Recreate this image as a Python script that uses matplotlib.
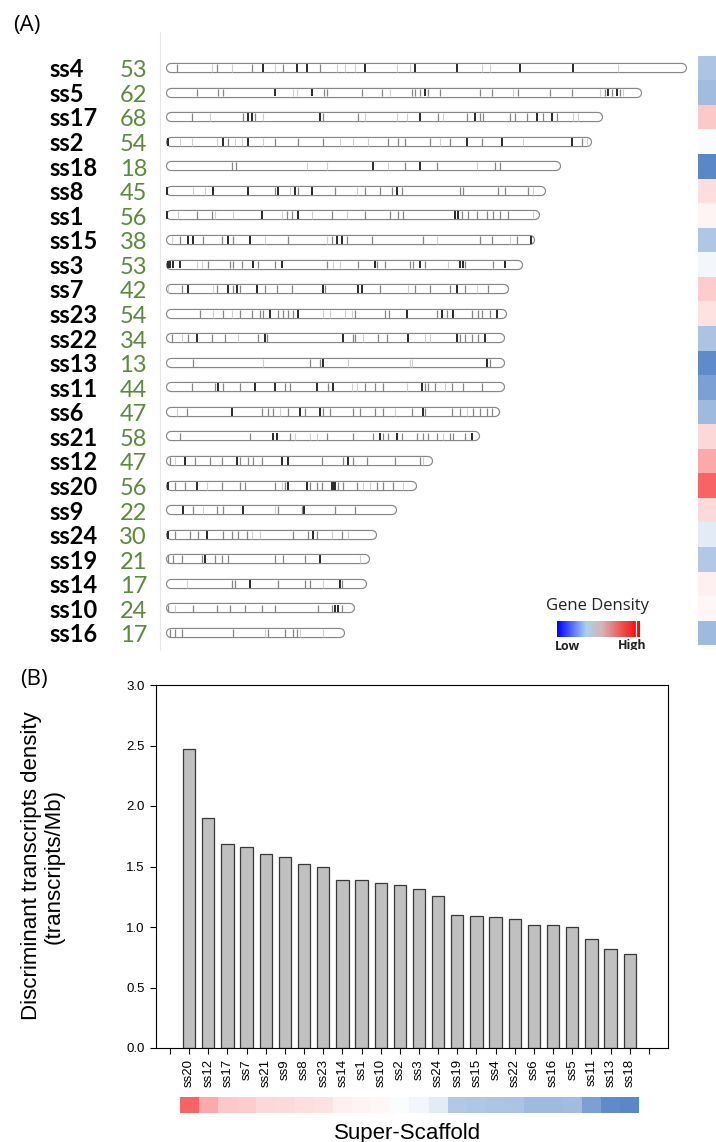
import matplotlib
matplotlib.use("Agg")
import numpy as np
import matplotlib.pyplot as plt
import matplotlib.transforms as mtransforms
from matplotlib.colors import LinearSegmentedColormap, Normalize

# ---- panel (A): scaffolds ordered by length ----
top_names = ["ss4", "ss5", "ss17", "ss2", "ss18", "ss8", "ss1", "ss15", "ss3", "ss7", "ss23", "ss22",
             "ss13", "ss11", "ss6", "ss21", "ss12", "ss20", "ss9", "ss24", "ss19", "ss14", "ss10", "ss16"]
top_counts = [53, 62, 68, 54, 18, 45, 56, 38, 53, 42, 54, 34, 13, 44, 47, 58, 47, 56, 22, 30, 21, 17, 24, 17]
lengths_mb = [52.1, 47.6, 43.7, 42.6, 39.5, 38.0, 37.4, 36.9, 35.7, 34.3, 34.1, 33.9,
              33.9, 33.9, 33.4, 31.4, 26.7, 25.1, 23.1, 21.1, 20.4, 20.1, 18.9, 17.9]

# band position (Mb) and shade: 1 light, 2 mid, 3 dark
bands = {
    "ss4": [(1.1, 2), (4.6, 1), (5.1, 2), (6.6, 1), (8.6, 2), (9.7, 3), (10.9, 1), (11.7, 2), (13.1, 3), (14.1, 3),
            (15.4, 2), (17.1, 1), (17.9, 1), (18.9, 1), (19.9, 3), (23.1, 1), (24.4, 1), (24.9, 3), (29.1, 3),
            (31.6, 1), (32.4, 1), (35.4, 3), (40.7, 3), (45.2, 1)],
    "ss5": [(3.1, 2), (5.2, 2), (5.7, 2), (10.9, 3), (12.7, 1), (13.1, 1), (14.6, 3), (15.8, 2), (16.1, 2),
            (19.6, 2), (21.6, 2), (22.4, 1), (24.6, 2), (24.9, 2), (25.4, 2), (25.9, 3), (26.2, 2), (27.4, 2),
            (31.4, 2), (32.6, 2), (34.7, 1), (35.2, 2), (38.4, 2), (40.6, 2), (43.4, 1), (43.9, 2), (44.2, 3),
            (44.6, 2), (45.1, 3), (45.4, 2), (45.7, 1)],
    "ss17": [(2.6, 2), (4.4, 1), (7.7, 2), (8.2, 3), (8.6, 3), (8.9, 2), (9.7, 1), (15.4, 3), (15.7, 2),
             (19.2, 2), (19.9, 1), (23.1, 1), (24.1, 1), (25.4, 3), (27.2, 2), (27.7, 1), (30.1, 2), (30.9, 3),
             (31.4, 2), (31.7, 2), (34.4, 2), (34.9, 2), (36.1, 2), (37.1, 3), (37.7, 2), (38.6, 3), (39.1, 2),
             (40.7, 1), (41.2, 1)],
    "ss2": [(0.2, 3), (1.4, 1), (2.6, 1), (5.1, 1), (5.7, 3), (6.2, 2), (6.9, 1), (7.6, 1), (8.2, 3), (9.7, 1),
            (10.9, 2), (13.2, 2), (15.7, 2), (17.4, 1), (18.7, 1), (20.2, 1), (22.2, 2), (23.2, 2), (23.9, 2),
            (26.4, 2), (27.4, 1), (28.4, 2), (30.1, 3), (31.6, 2), (33.6, 3), (35.7, 1), (40.6, 3), (41.6, 2),
            (42.1, 1)],
    "ss18": [(6.6, 2), (7.0, 2), (14.1, 1), (16.1, 1), (20.7, 3), (22.2, 1), (23.9, 2), (25.4, 3), (27.1, 2),
             (31.1, 1), (32.9, 2), (33.4, 2)],
    "ss8": [(0.1, 3), (2.7, 1), (3.9, 1), (4.7, 3), (8.2, 3), (10.9, 2), (11.2, 3), (12.4, 1), (12.9, 3),
            (13.2, 2), (14.6, 3), (16.9, 2), (19.1, 1), (19.9, 2), (21.4, 2), (22.6, 2), (23.1, 3), (23.6, 2),
            (29.4, 2), (29.7, 2), (33.2, 2), (33.9, 2), (36.2, 2), (36.7, 1)],
    "ss1": [(0.1, 3), (1.2, 1), (3.1, 2), (4.6, 2), (4.9, 1), (6.7, 1), (9.6, 3), (11.6, 1), (12.1, 2),
            (12.6, 2), (13.2, 3), (14.6, 1), (16.6, 2), (18.1, 1), (19.9, 2), (22.4, 2), (23.2, 2), (23.7, 2),
            (28.9, 3), (29.2, 3), (29.6, 2), (30.2, 2), (31.1, 2), (32.1, 2), (32.7, 2), (33.4, 2), (34.2, 2),
            (36.7, 1)],
    "ss15": [(0.6, 1), (1.4, 2), (2.2, 3), (2.7, 3), (3.7, 2), (5.6, 2), (6.2, 3), (6.7, 2), (8.4, 3),
             (9.9, 1), (12.2, 2), (16.1, 1), (16.6, 2), (17.1, 3), (17.6, 3), (18.1, 2), (20.6, 2), (25.7, 2),
             (27.1, 1), (31.4, 2), (32.6, 2), (34.4, 1), (35.1, 2), (36.5, 3)],
    "ss3": [(0.2, 3), (0.4, 3), (0.7, 3), (1.4, 3), (3.1, 1), (3.6, 1), (4.2, 2), (6.4, 2), (6.7, 2), (7.6, 2),
            (8.7, 3), (9.2, 2), (10.9, 2), (11.6, 3), (16.1, 2), (16.7, 1), (17.4, 1), (19.2, 2), (20.9, 3),
            (21.1, 2), (21.9, 2), (24.4, 2), (24.7, 2), (25.4, 3), (25.9, 2), (28.2, 1), (29.4, 3), (29.7, 3),
            (29.9, 2), (32.7, 2), (33.9, 3)],
    "ss7": [(0.2, 1), (1.6, 2), (2.2, 3), (4.7, 1), (5.1, 2), (6.2, 3), (6.7, 2), (7.1, 3), (7.4, 2), (9.1, 3),
            (9.9, 2), (11.1, 2), (12.6, 2), (15.7, 3), (15.9, 2), (19.2, 3), (19.6, 3), (21.4, 2), (24.2, 1),
            (24.9, 2), (26.4, 2), (28.4, 2), (29.1, 3), (29.9, 2), (31.1, 1), (32.2, 2)],
    "ss23": [(3.4, 2), (4.7, 1), (5.7, 2), (6.6, 1), (7.4, 2), (8.6, 2), (9.4, 2), (9.7, 2), (10.4, 3),
             (11.2, 2), (11.7, 2), (12.2, 2), (12.7, 2), (13.2, 3), (15.7, 1), (16.4, 1), (17.9, 1), (18.6, 1),
             (18.9, 2), (21.9, 2), (22.3, 2), (24.1, 3), (27.1, 2), (27.6, 3), (28.1, 2), (28.7, 3), (30.6, 2),
             (31.2, 2), (31.6, 2), (32.4, 2), (33.1, 3)],
    "ss22": [(0.6, 2), (1.6, 1), (2.2, 2), (3.1, 3), (4.6, 2), (5.9, 2), (7.2, 1), (9.2, 2), (9.9, 3),
             (10.1, 2), (17.7, 3), (18.7, 2), (18.9, 2), (19.7, 1), (21.2, 2), (22.1, 2), (24.2, 3), (25.9, 1),
             (26.4, 1), (29.1, 3), (29.4, 2), (29.9, 2), (30.6, 2), (31.2, 2), (31.9, 3)],
    "ss13": [(2.7, 2), (9.7, 1), (14.4, 2), (15.4, 2), (15.7, 3), (18.2, 1), (24.4, 1), (24.6, 1), (32.1, 3),
             (32.4, 2)],
    "ss11": [(2.6, 2), (4.9, 2), (5.2, 3), (5.7, 2), (7.4, 2), (8.9, 3), (10.9, 3), (11.9, 2), (12.4, 2),
             (15.1, 3), (16.2, 2), (16.7, 3), (18.6, 1), (19.1, 1), (19.9, 2), (20.9, 2), (21.7, 2), (24.1, 1),
             (25.6, 3), (25.9, 2), (26.2, 2), (26.9, 2), (27.9, 1), (28.6, 2), (29.7, 2), (31.6, 2)],
    "ss6": [(1.1, 1), (2.1, 2), (6.6, 3), (9.6, 2), (10.2, 2), (10.7, 2), (11.4, 1), (12.2, 2), (13.4, 3),
            (13.9, 2), (15.4, 3), (15.7, 2), (16.4, 2), (18.7, 2), (19.4, 2), (20.9, 2), (21.7, 2), (22.9, 1),
            (24.6, 2), (25.7, 3), (25.9, 2), (28.6, 2), (29.4, 2), (30.1, 1), (30.7, 2), (31.4, 2), (32.1, 2),
            (32.6, 2)],
    "ss21": [(1.4, 2), (8.4, 2), (10.7, 3), (11.1, 3), (12.4, 2), (12.9, 1), (14.4, 1), (15.1, 1), (16.1, 2),
             (18.7, 2), (20.7, 2), (21.4, 3), (21.7, 2), (22.2, 2), (23.1, 3), (23.6, 2), (25.1, 2), (25.7, 2),
             (26.2, 2), (27.1, 2), (27.7, 1), (28.4, 2), (28.7, 2), (29.9, 2), (30.6, 3)],
    "ss12": [(0.4, 2), (0.9, 1), (1.9, 3), (2.9, 2), (4.4, 2), (5.6, 2), (7.1, 3), (7.4, 2), (8.2, 2),
             (8.7, 2), (9.6, 2), (11.6, 3), (12.2, 3), (15.6, 2), (17.7, 2), (18.2, 3), (18.7, 2), (20.1, 2),
             (22.9, 2), (25.4, 2), (25.7, 1)],
    "ss20": [(0.2, 3), (0.9, 2), (1.9, 2), (3.1, 3), (4.1, 1), (5.6, 2), (7.4, 2), (7.9, 2), (10.9, 2),
             (11.6, 1), (11.9, 2), (12.2, 3), (14.1, 3), (14.4, 2), (15.1, 2), (15.6, 2), (16.6, 3), (16.75, 3),
             (16.9, 3), (17.2, 2), (17.7, 2), (19.1, 2), (19.7, 1), (20.4, 1), (21.1, 2), (21.7, 2), (22.7, 2),
             (23.7, 1)],
    "ss9": [(1.7, 3), (2.7, 2), (3.7, 1), (5.1, 2), (5.7, 2), (7.7, 3), (10.9, 1), (11.2, 2), (13.6, 2),
            (13.75, 3), (16.9, 2), (18.9, 2)],
    "ss24": [(0.2, 3), (0.9, 2), (2.4, 2), (3.2, 2), (4.1, 3), (5.7, 2), (6.6, 2), (7.2, 2), (8.1, 2),
             (8.6, 1), (9.4, 1), (12.7, 2), (14.2, 2), (14.7, 3), (15.1, 2), (16.6, 1), (17.6, 2), (18.2, 1)],
    "ss19": [(0.2, 2), (0.7, 2), (1.6, 2), (3.6, 2), (3.9, 3), (4.9, 2), (5.6, 2), (6.2, 2), (10.9, 2),
             (11.7, 2), (13.9, 2), (15.4, 3), (19.4, 1)],
    "ss14": [(2.1, 1), (6.6, 2), (6.9, 2), (8.4, 3), (11.2, 2), (13.9, 2), (14.4, 2), (15.7, 1), (17.4, 3),
             (17.6, 2)],
    "ss10": [(0.2, 2), (0.9, 1), (2.7, 2), (5.1, 2), (6.4, 2), (7.9, 2), (9.6, 2), (10.9, 2), (15.2, 2),
             (16.6, 2), (16.9, 3), (17.2, 3), (17.6, 2)],
    "ss16": [(0.4, 2), (0.9, 2), (1.6, 2), (6.7, 2), (9.9, 1), (10.2, 2), (11.9, 2), (12.7, 2), (13.1, 2),
             (13.4, 1), (15.7, 1)],
}

# relative gene density (-1 low ... +1 high), shared by both colour strips
gene_density = {
    "ss20": 0.93, "ss12": 0.52, "ss17": 0.33, "ss7": 0.30, "ss21": 0.24, "ss9": 0.22, "ss8": 0.20,
    "ss23": 0.18, "ss14": 0.09, "ss1": 0.07, "ss10": 0.05, "ss2": -0.02, "ss3": -0.07, "ss24": -0.15,
    "ss19": -0.42, "ss15": -0.43, "ss4": -0.45, "ss22": -0.46, "ss6": -0.53, "ss16": -0.53, "ss5": -0.51,
    "ss11": -0.72, "ss13": -0.88, "ss18": -0.91,
}

# ---- panel (B): discriminant transcripts density ----
bar_names = ["ss20", "ss12", "ss17", "ss7", "ss21", "ss9", "ss8", "ss23", "ss14", "ss1", "ss10", "ss2",
             "ss3", "ss24", "ss19", "ss15", "ss4", "ss22", "ss6", "ss16", "ss5", "ss11", "ss13", "ss18"]
bar_values = [2.47, 1.90, 1.69, 1.66, 1.60, 1.58, 1.52, 1.50, 1.39, 1.39, 1.36, 1.35,
              1.31, 1.26, 1.10, 1.09, 1.08, 1.07, 1.02, 1.02, 1.00, 0.90, 0.82, 0.78]

W, H = 716, 1142
density_cmap = LinearSegmentedColormap.from_list("dens", ["#4a7cc3", "#ffffff", "#f85a5a"])
density_norm = Normalize(-1, 1)
legend_cmap = LinearSegmentedColormap.from_list(
    "legend", [(0, "#0000ff"), (0.35, "#a8d2ec"), (0.55, "#d8b2b2"), (0.8, "#f04a4a"), (1, "#ff0000")])
band_colors = {1: "#cfcfcf", 2: "#858585", 3: "#2a2a2a"}
band_lw = {1: 0.8, 2: 0.9, 3: 1.4}


def fig_box(x0, y0, x1, y1):
    # pixel box (top-left origin) -> figure fraction rect
    return [x0 / W, 1 - y1 / H, (x1 - x0) / W, (y1 - y0) / H]


fig = plt.figure(figsize=(W / 100, H / 100), dpi=100)

# ideogram axes: 10 px per Mb, scaffold start at x=166 px
ax = fig.add_axes(fig_box(160, 32, 698, 650))
ax.set_xlim(-0.6, 53.2)
n = len(top_names)
ax.set_ylim(n - 1 + 17 / 24.565, -36 / 24.565)
for s in ["top", "right", "bottom"]:
    ax.spines[s].set_visible(False)
ax.spines["left"].set_color("#e6e6e6")
ax.set_xticks([])
ax.set_yticks([])

for i, (name, L) in enumerate(zip(top_names, lengths_mb)):
    ax.plot([0.5, L - 0.5], [i, i], color="#878787", lw=7.4, solid_capstyle="round", zorder=1)
    ax.plot([0.5, L - 0.5], [i, i], color="white", lw=5.7, solid_capstyle="round", zorder=2)
    for pos, lev in bands[name]:
        ax.vlines(pos, i - 0.16, i + 0.16, color=band_colors[lev], lw=band_lw[lev], zorder=3)

lab_tr = mtransforms.blended_transform_factory(fig.transFigure, ax.transData)
for i, (name, cnt) in enumerate(zip(top_names, top_counts)):
    ax.text(49 / W, i + 0.38, name, transform=lab_tr, ha="left", va="baseline",
            fontsize=17, fontweight="bold", family="Lato", color="black", clip_on=False)
    ax.text(147 / W, i + 0.38, str(cnt), transform=lab_tr, ha="right", va="baseline",
            fontsize=17, family="Lato", color="#5a8a3c", clip_on=False)

# gene density strip at the right edge
ax_s = fig.add_axes(fig_box(698, 32, 716, 650), sharey=ax)
ax_s.barh(np.arange(n), 1, height=1, left=0,
          color=[density_cmap(density_norm(gene_density[s])) for s in top_names])
ax_s.set_xlim(0, 1)
ax_s.axis("off")

# legend gradient
ax_l = fig.add_axes(fig_box(557, 621, 640, 637))
ax_l.imshow(np.linspace(0, 1, 256)[None, :], cmap=legend_cmap, aspect="auto", extent=(0, 1, 0, 1))
ax_l.axvline(0.955, color="white", lw=0.8)
ax_l.axis("off")
fig.text(598 / W, 1 - 606 / H, "Gene Density", ha="center", va="center", fontsize=12,
         family="Open Sans", color="#222222")
ax.text(568 / W, 1 - 646 / H, "Low", transform=fig.transFigure, ha="center", va="center",
        fontsize=9, family="Open Sans", fontweight="bold", color="#222222", clip_on=True)
ax.text(632 / W, 1 - 646 / H, "High", transform=fig.transFigure, ha="center", va="center",
        fontsize=9, family="Open Sans", fontweight="bold", color="#222222", clip_on=True)

fig.text(13 / W, 1 - 25 / H, "(A)", ha="left", va="center", fontsize=16, family="Open Sans")
fig.text(20 / W, 1 - 680 / H, "(B)", ha="left", va="center", fontsize=16, family="Open Sans")

# ---- bar chart ----
arial = "Liberation Sans"
axb = fig.add_axes(fig_box(156, 685, 668, 1048))
xpos = np.arange(1, len(bar_names) + 1)
axb.bar(xpos, bar_values, width=0.64, color="#c0c0c0", edgecolor="#383838", lw=0.9)
axb.set_xlim(-0.73, 26.0)
axb.set_ylim(0, 3.0)
axb.set_xticks(np.arange(0, len(bar_names) + 2))
axb.set_xticklabels([""] + bar_names + [""], rotation=90, fontsize=9.5, family=arial)
yt = np.arange(0, 3.01, 0.5)
axb.set_yticks(yt)
axb.set_yticklabels(["%.1f" % v for v in yt], fontsize=9.5, family=arial)
axb.tick_params(direction="out", length=4, width=0.8, pad=4)
for s in axb.spines.values():
    s.set_linewidth(0.8)
fig.text(43 / W, 1 - 866 / H, "Discriminant transcripts density\n(transcripts/Mb)", rotation=90,
         ha="center", va="center", multialignment="center", fontsize=16, family=arial,
         linespacing=1.1)

ax_c = fig.add_axes(fig_box(156, 1097, 668, 1113), sharex=axb)
ax_c.bar(xpos, 1, width=1, bottom=0,
         color=[density_cmap(density_norm(gene_density[s])) for s in bar_names])
ax_c.set_ylim(0, 1)
ax_c.axis("off")

fig.text(408 / W, 1 - 1139 / H, "Super-Scaffold", ha="center", va="baseline", fontsize=16, family=arial)

fig.savefig("out.png", dpi=100)
